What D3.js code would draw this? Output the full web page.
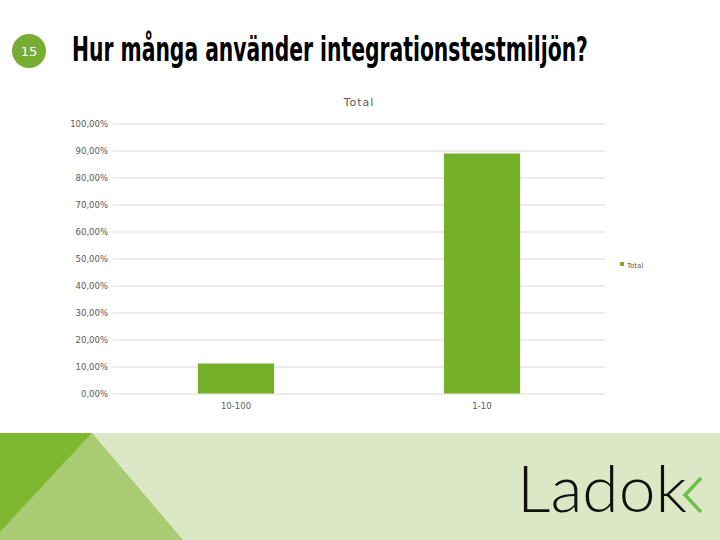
<!DOCTYPE html>
<html><head><meta charset="utf-8">
<script src="https://cdn.jsdelivr.net/npm/d3@7"></script>
<style>html,body{margin:0;padding:0;background:#fff;}svg{display:block;}</style>
</head><body>
<svg id="chart" width="720" height="540"></svg>
<script>
const slideNumber = "15";
const slideTitle = "Hur många använder integrationstestmiljön?";
const chartTitle = "Total";
const seriesName = "Total";
const categories = ["10-100", "1-10"];
const values = [11.11, 88.89];
const yTicks = [0, 10, 20, 30, 40, 50, 60, 70, 80, 90, 100];

const svg = d3.select("#chart");
const green = "#76b02a";

// header
svg.append("circle").attr("cx", 29).attr("cy", 51).attr("r", 17).attr("fill", "#78ad33");
svg.append("text").attr("x", 29).attr("y", 56).attr("text-anchor", "middle")
  .attr("font-family", "DejaVu Sans, sans-serif").attr("font-size", 13).attr("fill", "#fff").text(slideNumber);
const titleG = svg.append("g");
const titleT = titleG.append("text").attr("x", 0).attr("y", 0)
  .attr("font-family", "'Liberation Sans Narrow', 'DejaVu Sans Condensed', sans-serif")
  .attr("font-weight", "bold").attr("font-size", 33).attr("fill", "#000").text(slideTitle);
const natW = titleT.node().getComputedTextLength();
titleG.attr("transform", `translate(72,61) scale(${516 / natW},1)`);

// chart
const x0 = 113, x1 = 605, yTop = 123.5, yBot = 393.5;
const x = d3.scaleBand().domain(categories).range([x0, x1]).paddingInner(0.69).paddingOuter(0.345);
const y = d3.scaleLinear().domain([0, 100]).range([yBot, yTop]);

svg.append("text").attr("x", 359).attr("y", 106).attr("text-anchor", "middle")
  .attr("font-family", "DejaVu Sans, sans-serif").attr("font-size", 11).attr("letter-spacing", 1)
  .attr("fill", "#595959").text(chartTitle);

const yAxis = d3.axisLeft(y).tickValues(yTicks).tickSize(-(x1 - x0)).tickPadding(5)
  .tickFormat(v => d3.format(".2f")(v).replace(".", ",") + "%");
const gy = svg.append("g").attr("transform", `translate(${x0},0)`).call(yAxis);
gy.select(".domain").remove();
gy.selectAll(".tick line").attr("stroke", "#d9d9d9").attr("stroke-width", 1);
gy.selectAll(".tick text").attr("font-family", "DejaVu Sans, sans-serif").attr("font-size", 8.5).attr("fill", "#595959");

svg.append("g").selectAll("rect").data(values).join("rect")
  .attr("x", (d, i) => x(categories[i])).attr("width", x.bandwidth())
  .attr("y", d => y(d)).attr("height", d => y(0) - y(d)).attr("fill", green);

const xAxis = d3.axisBottom(x).tickSize(0).tickPadding(9);
const gx = svg.append("g").attr("transform", `translate(0,${yBot})`).call(xAxis);
gx.select(".domain").remove();
gx.selectAll(".tick text").attr("font-family", "DejaVu Sans, sans-serif").attr("font-size", 8.5).attr("fill", "#595959");

// legend
svg.append("rect").attr("x", 620).attr("y", 262).attr("width", 4).attr("height", 4).attr("fill", green);
svg.append("text").attr("x", 627).attr("y", 267.5).attr("font-family", "DejaVu Sans, sans-serif")
  .attr("font-size", 7).attr("fill", "#595959").text(seriesName);

// bottom band
svg.append("rect").attr("x", 0).attr("y", 433).attr("width", 720).attr("height", 107).attr("fill", "#dce8c5");
svg.append("polygon").attr("points", "92,433 183,540 0,540 0,532").attr("fill", "#a9cb72");
svg.append("polygon").attr("points", "0,433 92,433 0,532").attr("fill", "#7db830");

// logo
svg.append("text").attr("x", 517).attr("y", 512)
  .attr("font-family", "Lato, 'Open Sans', sans-serif").attr("font-weight", 300)
  .attr("font-size", 66).attr("fill", "#111")
  .attr("textLength", 170).attr("lengthAdjust", "spacingAndGlyphs").text("Ladok");
svg.append("path").attr("d", "M701,478 L685,495 L701,512")
  .attr("fill", "none").attr("stroke", "#6cc04a").attr("stroke-width", 3.5);
</script>
</body></html>
